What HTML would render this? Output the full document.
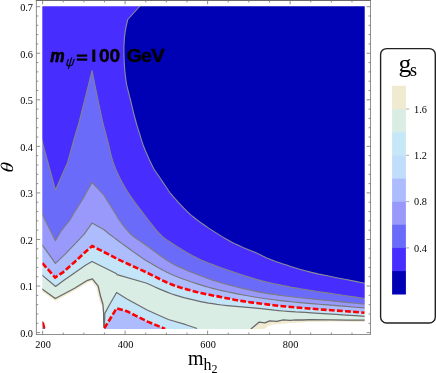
<!DOCTYPE html>
<html><head><meta charset="utf-8"><title>contour</title>
<style>
html,body{margin:0;padding:0;background:#fff;}
svg{display:block;will-change:transform}
.s{font-family:"Liberation Serif",serif;fill:#000}
.ss{font-family:"Liberation Sans",sans-serif;fill:#000}
</style></head><body>
<svg width="436" height="373" viewBox="0 0 436 373">
<rect width="436" height="373" fill="#fff"/>
<rect x="39.3" y="3.2" width="328.4" height="328.7" fill="#DAEDE5"/>
<polygon points="39.3,287.0 42.4,289.2 55.3,298.5 74.6,288.2 87.5,280.3 92.4,278.8 98.2,286.1 100.4,295.8 102.9,304.3 103.6,312.9 103.8,327.0 103.8,331.9 39.3,331.9" fill="#fff"/>
<polyline points="42.4,290.4 55.3,299.7 74.6,289.4 87.5,281.5 92.4,280.0 97.2,286.6 99.4,296.3 101.9,304.8" fill="none" stroke="#EFEAD0" stroke-width="2.2"/>
<polygon points="250.9,328.9 259.3,322.1 264.9,322.9 269.7,320.8 276.9,321.4 283.3,319.9 290.0,320.4 296.0,319.8 303.0,320.0 310.0,319.7 330.0,319.8 347.0,320.2 364.7,320.2 367.7,320.2 367.7,331.9 245.9,331.9" fill="#EFEAD0"/>
<polygon points="264.0,328.9 268.0,326.2 272.0,324.7 280.0,324.0 290.0,323.0 300.0,322.4 310.0,322.0 330.0,321.6 364.7,321.9 367.7,321.9 367.7,331.9 259.5,331.9" fill="#fff"/>
<polygon points="104.4,331.9 104.4,327.0 104.8,313.4 110.5,303.0 116.6,292.5 127.0,298.9 147.6,310.3 168.3,319.5 186.0,324.7 197.1,328.5 200.0,331.9" fill="#C4E5F8"/>
<polygon points="102.0,331.9 104.3,328.4 116.6,308.2 127.0,311.3 147.6,321.6 165.2,328.9 168.5,331.9" fill="#ACBCFC"/>
<polygon points="39.3,272.8 42.4,275.4 55.6,286.5 62.9,281.0 74.4,273.0 85.9,265.0 92.0,261.5 116.2,273.5 117.0,274.6 146.0,283.0 150.2,284.8 154.4,286.7 158.6,288.6 162.8,290.4 167.0,292.1 171.2,293.7 175.4,295.1 179.6,296.4 183.8,297.6 188.1,298.7 192.3,299.7 196.5,300.7 200.6,301.6 204.6,302.4 208.5,303.1 212.6,303.7 217.0,304.4 221.7,305.0 227.0,305.6 232.7,306.2 238.7,306.7 244.8,307.2 250.6,307.7 256.0,308.2 260.9,308.7 265.5,309.2 269.9,309.7 274.2,310.2 278.5,310.6 283.0,311.0 287.4,311.3 291.5,311.6 295.6,311.9 300.1,312.1 305.3,312.4 311.5,312.8 318.9,313.3 327.4,313.8 336.6,314.4 346.1,315.1 355.5,315.7 364.7,316.3 367.7,316.5 367.7,3.2 39.3,3.2" fill="#C4E5F8"/>
<polygon points="39.3,259.7 42.4,263.2 55.2,277.5 62.9,272.4 74.4,262.2 85.9,251.5 92.2,246.0 119.2,259.9 123.7,262.0 128.2,264.0 132.7,266.1 137.2,268.1 141.6,270.2 146.0,272.2 150.3,274.3 154.5,276.4 158.7,278.5 162.9,280.6 167.0,282.5 171.2,284.3 175.4,285.9 179.6,287.3 183.8,288.5 188.1,289.7 192.3,290.8 196.5,291.9 200.8,292.9 205.2,293.9 209.5,294.8 213.8,295.7 217.9,296.4 221.7,297.2 225.2,297.9 228.4,298.5 231.4,299.1 234.3,299.7 237.2,300.2 240.0,300.7 242.7,301.1 245.1,301.5 247.5,301.9 249.9,302.2 252.7,302.6 256.0,303.0 259.8,303.5 264.1,304.0 268.7,304.6 273.5,305.2 278.3,305.7 283.0,306.2 287.4,306.6 291.5,307.0 295.6,307.4 300.1,307.8 305.3,308.2 311.5,308.7 318.9,309.3 327.4,309.9 336.6,310.6 346.1,311.3 355.5,312.0 364.7,312.7 367.7,312.9 367.7,3.2 39.3,3.2" fill="#ACBCFC"/>
<polygon points="39.3,240.9 42.4,245.2 55.4,263.4 65.2,254.2 76.4,242.4 84.0,234.3 92.0,223.1 104.1,229.8 109.2,234.0 111.6,235.8 114.0,237.6 116.3,239.3 118.8,241.2 121.4,243.1 124.3,245.2 127.5,247.5 130.9,250.0 134.5,252.6 138.3,255.3 142.1,257.9 146.0,260.4 150.0,262.8 154.1,265.3 158.4,267.7 162.7,270.0 167.0,272.2 171.2,274.2 175.4,276.0 179.6,277.7 183.8,279.3 188.1,280.8 192.3,282.2 196.5,283.6 200.6,284.9 204.6,286.1 208.5,287.3 212.6,288.4 217.0,289.5 221.7,290.6 227.0,291.8 232.7,292.9 238.7,294.1 244.8,295.2 250.6,296.3 256.0,297.2 260.9,298.0 265.5,298.7 269.9,299.3 274.2,299.8 278.5,300.4 283.0,300.9 287.4,301.4 291.5,301.8 295.6,302.2 300.1,302.6 305.3,303.1 311.5,303.6 318.9,304.2 327.4,304.9 336.6,305.6 346.1,306.4 355.5,307.2 364.7,307.9 367.7,308.1 367.7,3.2 39.3,3.2" fill="#9999FC"/>
<polygon points="39.3,208.1 42.4,214.4 55.4,240.7 61.2,230.8 70.0,220.0 73.8,213.2 82.7,199.3 92.0,182.4 104.1,195.5 116.7,215.7 117.0,216.3 117.2,216.8 117.4,217.2 117.7,217.8 118.3,218.7 119.2,220.0 120.5,221.8 122.2,224.1 124.1,226.6 126.2,229.2 128.4,231.7 130.6,234.0 132.8,236.0 135.1,237.7 137.4,239.4 140.0,241.1 142.8,243.0 146.0,245.2 149.6,247.8 153.7,250.9 158.0,254.0 162.4,257.2 166.9,260.2 171.2,262.9 175.4,265.2 179.6,267.2 183.8,269.1 188.1,270.9 192.3,272.5 196.5,274.2 200.6,275.8 204.6,277.3 208.5,278.8 212.6,280.2 217.0,281.6 221.7,283.0 227.0,284.5 232.7,286.0 238.7,287.5 244.8,288.9 250.6,290.2 256.0,291.4 260.9,292.4 265.5,293.2 269.9,293.9 274.2,294.5 278.5,295.1 283.0,295.7 287.4,296.3 291.5,296.8 295.6,297.2 300.1,297.7 305.3,298.3 311.5,298.9 318.9,299.7 327.4,300.5 336.6,301.4 346.1,302.4 355.5,303.3 364.7,304.2 367.7,304.5 367.7,3.2 39.3,3.2" fill="#6B6BFA"/>
<polygon points="39.3,130.6 42.4,142.0 55.4,190.0 67.5,162.7 73.8,140.0 78.9,123.0 86.5,92.8 92.0,70.6 96.5,92.8 102.9,123.0 107.4,140.0 108.5,144.2 109.5,148.4 110.4,152.6 111.5,156.8 112.7,161.0 114.2,165.2 115.9,169.4 117.7,173.6 119.7,177.8 121.9,182.0 124.3,186.2 126.8,190.5 129.7,195.0 132.9,199.6 136.3,204.3 139.7,208.8 143.0,213.1 146.0,217.0 148.7,220.5 151.1,223.7 153.4,226.6 155.7,229.3 157.8,231.8 159.9,234.0 161.8,235.9 163.3,237.3 164.8,238.5 166.5,239.6 168.5,241.0 171.2,242.7 174.6,244.9 178.6,247.4 183.0,250.2 187.6,252.9 192.1,255.5 196.5,257.8 200.6,259.8 204.6,261.5 208.5,263.1 212.6,264.6 217.0,266.2 221.7,267.9 227.0,269.8 232.7,271.8 238.7,273.8 244.8,275.8 250.6,277.6 256.0,279.2 260.9,280.6 265.5,281.7 269.9,282.7 274.2,283.7 278.5,284.6 283.0,285.5 287.4,286.4 291.5,287.2 295.6,287.9 300.1,288.7 305.3,289.5 311.5,290.5 318.9,291.7 327.4,292.9 336.6,294.3 346.1,295.7 355.5,297.1 364.7,298.5 367.7,298.9 367.7,3.2 39.3,3.2" fill="#482DFF"/>
<polygon points="143.2,3.2 140.0,6.0 127.8,19.5 127.4,21.2 127.0,22.9 126.6,24.7 126.2,26.4 125.8,28.1 125.5,29.8 125.2,31.5 125.0,33.2 124.8,34.9 124.6,36.6 124.4,38.3 124.3,40.0 124.2,41.7 124.1,43.2 124.0,44.8 123.9,46.5 123.9,48.3 123.9,50.5 123.9,53.0 124.0,55.9 124.1,59.0 124.2,62.1 124.4,65.1 124.6,68.0 124.8,70.7 125.1,73.3 125.4,75.9 125.7,78.4 126.0,80.8 126.4,83.0 126.7,84.9 127.1,86.4 127.4,87.9 127.8,89.4 128.3,91.4 129.0,94.0 129.8,97.5 130.9,101.7 132.0,106.3 133.1,110.9 134.2,115.3 135.2,119.0 136.0,122.0 136.7,124.5 137.4,126.7 138.0,128.8 138.7,130.9 139.4,133.2 140.2,135.6 140.9,138.1 141.7,140.6 142.5,143.1 143.4,145.8 144.5,148.5 145.7,151.5 147.2,154.8 148.7,158.2 150.2,161.4 151.6,164.4 152.9,167.0 154.0,169.0 154.9,170.5 155.8,171.8 156.6,173.0 157.5,174.2 158.6,175.8 159.9,177.7 161.3,179.8 162.8,182.1 164.3,184.3 165.6,186.3 166.8,188.0 167.7,189.3 168.2,190.2 168.7,191.0 169.3,191.8 170.0,192.8 171.2,194.2 172.8,196.1 174.8,198.4 177.0,200.8 179.3,203.4 181.6,205.8 183.8,208.1 185.8,210.1 187.6,211.9 189.4,213.6 191.3,215.4 193.7,217.3 196.5,219.5 200.1,222.1 204.2,225.0 208.7,228.1 213.3,231.1 217.8,233.9 221.7,236.4 225.2,238.5 228.4,240.3 231.4,241.9 234.3,243.4 237.2,244.7 240.0,246.1 242.8,247.4 245.6,248.6 248.4,249.7 251.0,250.7 253.6,251.8 256.0,252.8 258.2,253.8 260.3,254.8 262.2,255.8 264.2,256.7 266.2,257.7 268.3,258.6 270.5,259.5 272.5,260.3 274.6,261.1 277.0,261.9 279.7,262.8 283.0,263.9 286.7,265.1 290.6,266.4 294.8,267.8 299.7,269.3 305.2,270.8 311.5,272.4 318.9,274.1 327.4,275.8 336.6,277.7 346.1,279.5 355.5,281.4 364.7,283.2 367.7,283.8 367.7,3.2" fill="#0000B4"/>
<polyline points="140.0,6.0 127.8,19.5 127.4,21.2 127.0,22.9 126.6,24.7 126.2,26.4 125.8,28.1 125.5,29.8 125.2,31.5 125.0,33.2 124.8,34.9 124.6,36.6 124.4,38.3 124.3,40.0 124.2,41.7 124.1,43.2 124.0,44.8 123.9,46.5 123.9,48.3 123.9,50.5 123.9,53.0 124.0,55.9 124.1,59.0 124.2,62.1 124.4,65.1 124.6,68.0 124.8,70.7 125.1,73.3 125.4,75.9 125.7,78.4 126.0,80.8 126.4,83.0 126.7,84.9 127.1,86.4 127.4,87.9 127.8,89.4 128.3,91.4 129.0,94.0 129.8,97.5 130.9,101.7 132.0,106.3 133.1,110.9 134.2,115.3 135.2,119.0 136.0,122.0 136.7,124.5 137.4,126.7 138.0,128.8 138.7,130.9 139.4,133.2 140.2,135.6 140.9,138.1 141.7,140.6 142.5,143.1 143.4,145.8 144.5,148.5 145.7,151.5 147.2,154.8 148.7,158.2 150.2,161.4 151.6,164.4 152.9,167.0 154.0,169.0 154.9,170.5 155.8,171.8 156.6,173.0 157.5,174.2 158.6,175.8 159.9,177.7 161.3,179.8 162.8,182.1 164.3,184.3 165.6,186.3 166.8,188.0 167.7,189.3 168.2,190.2 168.7,191.0 169.3,191.8 170.0,192.8 171.2,194.2 172.8,196.1 174.8,198.4 177.0,200.8 179.3,203.4 181.6,205.8 183.8,208.1 185.8,210.1 187.6,211.9 189.4,213.6 191.3,215.4 193.7,217.3 196.5,219.5 200.1,222.1 204.2,225.0 208.7,228.1 213.3,231.1 217.8,233.9 221.7,236.4 225.2,238.5 228.4,240.3 231.4,241.9 234.3,243.4 237.2,244.7 240.0,246.1 242.8,247.4 245.6,248.6 248.4,249.7 251.0,250.7 253.6,251.8 256.0,252.8 258.2,253.8 260.3,254.8 262.2,255.8 264.2,256.7 266.2,257.7 268.3,258.6 270.5,259.5 272.5,260.3 274.6,261.1 277.0,261.9 279.7,262.8 283.0,263.9 286.7,265.1 290.6,266.4 294.8,267.8 299.7,269.3 305.2,270.8 311.5,272.4 318.9,274.1 327.4,275.8 336.6,277.7 346.1,279.5 355.5,281.4 364.7,283.2 367.7,283.8" fill="none" stroke="#8c8c96" stroke-width="1.1" stroke-linejoin="round"/>
<polyline points="39.3,130.6 42.4,142.0 55.4,190.0 67.5,162.7 73.8,140.0 78.9,123.0 86.5,92.8 92.0,70.6 96.5,92.8 102.9,123.0 107.4,140.0 108.5,144.2 109.5,148.4 110.4,152.6 111.5,156.8 112.7,161.0 114.2,165.2 115.9,169.4 117.7,173.6 119.7,177.8 121.9,182.0 124.3,186.2 126.8,190.5 129.7,195.0 132.9,199.6 136.3,204.3 139.7,208.8 143.0,213.1 146.0,217.0 148.7,220.5 151.1,223.7 153.4,226.6 155.7,229.3 157.8,231.8 159.9,234.0 161.8,235.9 163.3,237.3 164.8,238.5 166.5,239.6 168.5,241.0 171.2,242.7 174.6,244.9 178.6,247.4 183.0,250.2 187.6,252.9 192.1,255.5 196.5,257.8 200.6,259.8 204.6,261.5 208.5,263.1 212.6,264.6 217.0,266.2 221.7,267.9 227.0,269.8 232.7,271.8 238.7,273.8 244.8,275.8 250.6,277.6 256.0,279.2 260.9,280.6 265.5,281.7 269.9,282.7 274.2,283.7 278.5,284.6 283.0,285.5 287.4,286.4 291.5,287.2 295.6,287.9 300.1,288.7 305.3,289.5 311.5,290.5 318.9,291.7 327.4,292.9 336.6,294.3 346.1,295.7 355.5,297.1 364.7,298.5 367.7,298.9" fill="none" stroke="#82828a" stroke-width="1.1" stroke-linejoin="round"/>
<polyline points="39.3,208.1 42.4,214.4 55.4,240.7 61.2,230.8 70.0,220.0 73.8,213.2 82.7,199.3 92.0,182.4 104.1,195.5 116.7,215.7 117.0,216.3 117.2,216.8 117.4,217.2 117.7,217.8 118.3,218.7 119.2,220.0 120.5,221.8 122.2,224.1 124.1,226.6 126.2,229.2 128.4,231.7 130.6,234.0 132.8,236.0 135.1,237.7 137.4,239.4 140.0,241.1 142.8,243.0 146.0,245.2 149.6,247.8 153.7,250.9 158.0,254.0 162.4,257.2 166.9,260.2 171.2,262.9 175.4,265.2 179.6,267.2 183.8,269.1 188.1,270.9 192.3,272.5 196.5,274.2 200.6,275.8 204.6,277.3 208.5,278.8 212.6,280.2 217.0,281.6 221.7,283.0 227.0,284.5 232.7,286.0 238.7,287.5 244.8,288.9 250.6,290.2 256.0,291.4 260.9,292.4 265.5,293.2 269.9,293.9 274.2,294.5 278.5,295.1 283.0,295.7 287.4,296.3 291.5,296.8 295.6,297.2 300.1,297.7 305.3,298.3 311.5,298.9 318.9,299.7 327.4,300.5 336.6,301.4 346.1,302.4 355.5,303.3 364.7,304.2 367.7,304.5" fill="none" stroke="#7c7c84" stroke-width="1.1" stroke-linejoin="round"/>
<polyline points="39.3,240.9 42.4,245.2 55.4,263.4 65.2,254.2 76.4,242.4 84.0,234.3 92.0,223.1 104.1,229.8 109.2,234.0 111.6,235.8 114.0,237.6 116.3,239.3 118.8,241.2 121.4,243.1 124.3,245.2 127.5,247.5 130.9,250.0 134.5,252.6 138.3,255.3 142.1,257.9 146.0,260.4 150.0,262.8 154.1,265.3 158.4,267.7 162.7,270.0 167.0,272.2 171.2,274.2 175.4,276.0 179.6,277.7 183.8,279.3 188.1,280.8 192.3,282.2 196.5,283.6 200.6,284.9 204.6,286.1 208.5,287.3 212.6,288.4 217.0,289.5 221.7,290.6 227.0,291.8 232.7,292.9 238.7,294.1 244.8,295.2 250.6,296.3 256.0,297.2 260.9,298.0 265.5,298.7 269.9,299.3 274.2,299.8 278.5,300.4 283.0,300.9 287.4,301.4 291.5,301.8 295.6,302.2 300.1,302.6 305.3,303.1 311.5,303.6 318.9,304.2 327.4,304.9 336.6,305.6 346.1,306.4 355.5,307.2 364.7,307.9 367.7,308.1" fill="none" stroke="#78787e" stroke-width="1.15" stroke-linejoin="round"/>
<polyline points="39.3,272.8 42.4,275.4 55.6,286.5 62.9,281.0 74.4,273.0 85.9,265.0 92.0,261.5 116.2,273.5 117.0,274.6 146.0,283.0 150.2,284.8 154.4,286.7 158.6,288.6 162.8,290.4 167.0,292.1 171.2,293.7 175.4,295.1 179.6,296.4 183.8,297.6 188.1,298.7 192.3,299.7 196.5,300.7 200.6,301.6 204.6,302.4 208.5,303.1 212.6,303.7 217.0,304.4 221.7,305.0 227.0,305.6 232.7,306.2 238.7,306.7 244.8,307.2 250.6,307.7 256.0,308.2 260.9,308.7 265.5,309.2 269.9,309.7 274.2,310.2 278.5,310.6 283.0,311.0 287.4,311.3 291.5,311.6 295.6,311.9 300.1,312.1 305.3,312.4 311.5,312.8 318.9,313.3 327.4,313.8 336.6,314.4 346.1,315.1 355.5,315.7 364.7,316.3 367.7,316.5" fill="none" stroke="#6c6c6e" stroke-width="1.2" stroke-linejoin="round"/>
<polyline points="39.3,287.0 42.4,289.2 55.3,298.5 74.6,288.2 87.5,280.3 92.4,278.8 98.2,286.1 100.4,295.8 102.9,304.3 103.6,312.9 103.8,327.0" fill="none" stroke="#686868" stroke-width="1.3" stroke-linejoin="round"/>
<polyline points="104.4,327.0 104.8,313.4 110.5,303.0 116.6,292.5 127.0,298.9 147.6,310.3 168.3,319.5 186.0,324.7 197.1,328.5" fill="none" stroke="#6c6c6e" stroke-width="1.2" stroke-linejoin="round"/>
<polyline points="250.9,328.9 259.3,322.1 264.9,322.9 269.7,320.8 276.9,321.4 283.3,319.9 290.0,320.4 296.0,319.8 303.0,320.0 310.0,319.7 330.0,319.8 347.0,320.2 364.7,320.2 367.7,320.2" fill="none" stroke="#686868" stroke-width="1.3" stroke-linejoin="round"/>
<polygon points="41,322.6 43.2,322.6 44.6,329.5 41,329.5" fill="#8c8cc8"/>
<polyline points="42.3,321.2 44.4,329.2" fill="none" stroke="#757575" stroke-width="1.4"/>
<polyline points="42.4,263.2 55.2,277.5 62.9,272.4 74.4,262.2 85.9,251.5 92.2,246.0 119.2,259.9 123.7,262.0 128.2,264.0 132.7,266.1 137.2,268.1 141.6,270.2 146.0,272.2 150.3,274.3 154.5,276.4 158.7,278.5 162.9,280.6 167.0,282.5 171.2,284.3 175.4,285.9 179.6,287.3 183.8,288.5 188.1,289.7 192.3,290.8 196.5,291.9 200.8,292.9 205.2,293.9 209.5,294.8 213.8,295.7 217.9,296.4 221.7,297.2 225.2,297.9 228.4,298.5 231.4,299.1 234.3,299.7 237.2,300.2 240.0,300.7 242.7,301.1 245.1,301.5 247.5,301.9 249.9,302.2 252.7,302.6 256.0,303.0 259.8,303.5 264.1,304.0 268.7,304.6 273.5,305.2 278.3,305.7 283.0,306.2 287.4,306.6 291.5,307.0 295.6,307.4 300.1,307.8 305.3,308.2 311.5,308.7 318.9,309.3 327.4,309.9 336.6,310.6 346.1,311.3 355.5,312.0 364.7,312.7" fill="none" stroke="#FF0000" stroke-width="2.6" stroke-dasharray="5.8 2.3" stroke-linejoin="miter"/>
<polyline points="104.3,328.4 116.6,308.2 127.0,311.3 147.6,321.6 165.2,328.9" fill="none" stroke="#FF0000" stroke-width="2.6" stroke-dasharray="5.8 2.3" stroke-linejoin="miter"/>
<polyline points="43.1,322.6 44.5,328.4" fill="none" stroke="#FF0000" stroke-width="2.0"/>
<path d="M0 0H436V373H0Z M42.3 6.2V328.9H364.7V6.2Z" fill="#fff" fill-rule="evenodd"/>
<rect x="36.3" y="0.4" width="334.2" height="334.2" fill="none" stroke="#747474" stroke-width="0.8"/>
<path d="M35.9 0.5H370.9" stroke="#6c6c6c" stroke-width="1"/>
<path d="M42.60 334.55 v-3.9 M42.60 0.4 v3.9 M63.23 334.55 v-2.0 M63.23 0.4 v2.0 M83.85 334.55 v-2.0 M83.85 0.4 v2.0 M104.47 334.55 v-2.0 M104.47 0.4 v2.0 M125.10 334.55 v-3.9 M125.10 0.4 v3.9 M145.72 334.55 v-2.0 M145.72 0.4 v2.0 M166.35 334.55 v-2.0 M166.35 0.4 v2.0 M186.97 334.55 v-2.0 M186.97 0.4 v2.0 M207.60 334.55 v-3.9 M207.60 0.4 v3.9 M228.22 334.55 v-2.0 M228.22 0.4 v2.0 M248.85 334.55 v-2.0 M248.85 0.4 v2.0 M269.48 334.55 v-2.0 M269.48 0.4 v2.0 M290.10 334.55 v-3.9 M290.10 0.4 v3.9 M310.73 334.55 v-2.0 M310.73 0.4 v2.0 M331.35 334.55 v-2.0 M331.35 0.4 v2.0 M351.98 334.55 v-2.0 M351.98 0.4 v2.0 M36.3 332.60 h3.9 M370.5 332.60 h-3.9 M36.3 323.29 h2.0 M370.5 323.29 h-2.0 M36.3 313.98 h2.0 M370.5 313.98 h-2.0 M36.3 304.66 h2.0 M370.5 304.66 h-2.0 M36.3 295.35 h2.0 M370.5 295.35 h-2.0 M36.3 286.04 h3.9 M370.5 286.04 h-3.9 M36.3 276.73 h2.0 M370.5 276.73 h-2.0 M36.3 267.42 h2.0 M370.5 267.42 h-2.0 M36.3 258.10 h2.0 M370.5 258.10 h-2.0 M36.3 248.79 h2.0 M370.5 248.79 h-2.0 M36.3 239.48 h3.9 M370.5 239.48 h-3.9 M36.3 230.17 h2.0 M370.5 230.17 h-2.0 M36.3 220.86 h2.0 M370.5 220.86 h-2.0 M36.3 211.54 h2.0 M370.5 211.54 h-2.0 M36.3 202.23 h2.0 M370.5 202.23 h-2.0 M36.3 192.92 h3.9 M370.5 192.92 h-3.9 M36.3 183.61 h2.0 M370.5 183.61 h-2.0 M36.3 174.30 h2.0 M370.5 174.30 h-2.0 M36.3 164.98 h2.0 M370.5 164.98 h-2.0 M36.3 155.67 h2.0 M370.5 155.67 h-2.0 M36.3 146.36 h3.9 M370.5 146.36 h-3.9 M36.3 137.05 h2.0 M370.5 137.05 h-2.0 M36.3 127.74 h2.0 M370.5 127.74 h-2.0 M36.3 118.42 h2.0 M370.5 118.42 h-2.0 M36.3 109.11 h2.0 M370.5 109.11 h-2.0 M36.3 99.80 h3.9 M370.5 99.80 h-3.9 M36.3 90.49 h2.0 M370.5 90.49 h-2.0 M36.3 81.18 h2.0 M370.5 81.18 h-2.0 M36.3 71.86 h2.0 M370.5 71.86 h-2.0 M36.3 62.55 h2.0 M370.5 62.55 h-2.0 M36.3 53.24 h3.9 M370.5 53.24 h-3.9 M36.3 43.93 h2.0 M370.5 43.93 h-2.0 M36.3 34.62 h2.0 M370.5 34.62 h-2.0 M36.3 25.30 h2.0 M370.5 25.30 h-2.0 M36.3 15.99 h2.0 M370.5 15.99 h-2.0 M36.3 6.68 h3.9 M370.5 6.68 h-3.9" fill="none" stroke="#747474" stroke-width="0.8"/>
<text x="43.1" y="347.7" text-anchor="middle" font-size="10.3" class="s">200</text>
<text x="125.6" y="347.7" text-anchor="middle" font-size="10.3" class="s">400</text>
<text x="208.1" y="347.7" text-anchor="middle" font-size="10.3" class="s">600</text>
<text x="290.6" y="347.7" text-anchor="middle" font-size="10.3" class="s">800</text>
<text x="33" y="336.9" text-anchor="end" font-size="10.3" class="s">0.0</text>
<text x="33" y="290.3" text-anchor="end" font-size="10.3" class="s">0.1</text>
<text x="33" y="243.8" text-anchor="end" font-size="10.3" class="s">0.2</text>
<text x="33" y="197.2" text-anchor="end" font-size="10.3" class="s">0.3</text>
<text x="33" y="150.7" text-anchor="end" font-size="10.3" class="s">0.4</text>
<text x="33" y="104.1" text-anchor="end" font-size="10.3" class="s">0.5</text>
<text x="33" y="57.5" text-anchor="end" font-size="10.3" class="s">0.6</text>
<text x="33" y="11.0" text-anchor="end" font-size="10.3" class="s">0.7</text>
<text x="188" y="365.3" font-size="20" class="s">m<tspan font-size="16" dy="4.6">h</tspan><tspan font-size="12" dy="3.5">2</tspan></text>
<text transform="translate(12.9,173.0) rotate(-90) scale(1.15,1) skewX(-6)" font-size="17.7" font-style="italic" class="s">θ</text>
<text transform="translate(50.23,61.8) scale(0.902,1)" font-size="17.9" font-weight="bold" font-style="italic" class="ss" stroke="#000" stroke-width="0.7">m</text>
<text transform="translate(65.52,65.5) scale(0.899,1) skewX(-8)" font-size="13.1" font-style="italic" class="ss" stroke="#000" stroke-width="0.2">ψ</text>
<rect x="76.8" y="54.5" width="10.4" height="2.2" fill="#000"/><rect x="76.8" y="58.5" width="10.4" height="2.2" fill="#000"/>
<rect x="92.3" y="49.6" width="3.0" height="12.2" fill="#000"/>
<text transform="translate(99.03,61.8) scale(1.073,1)" font-size="17.9" font-weight="bold" class="ss" stroke="#000" stroke-width="0.35">0</text>
<text transform="translate(109.43,61.8) scale(1.073,1)" font-size="17.9" font-weight="bold" class="ss" stroke="#000" stroke-width="0.35">0</text>
<text transform="translate(126.70,61.8) scale(1.086,1)" font-size="17.9" font-weight="bold" class="ss" stroke="#000" stroke-width="0.35">G</text>
<text transform="translate(141.04,61.8) scale(1.090,1)" font-size="17.9" font-weight="bold" class="ss" stroke="#000" stroke-width="0.35">e</text>
<text transform="translate(151.36,61.8) scale(1.131,1)" font-size="17.9" font-weight="bold" class="ss" stroke="#000" stroke-width="0.35">V</text>
<rect x="380.6" y="48.6" width="54.7" height="274.4" rx="6" ry="6" fill="#fff" stroke="#222" stroke-width="1.4"/>
<rect x="392.1" y="85.80" width="13.8" height="23.46" fill="#EFEAD0"/>
<rect x="392.1" y="108.96" width="13.8" height="23.46" fill="#DAEDE5"/>
<rect x="392.1" y="132.11" width="13.8" height="23.46" fill="#C6E7F5"/>
<rect x="392.1" y="155.27" width="13.8" height="23.46" fill="#C0DDFB"/>
<rect x="392.1" y="178.42" width="13.8" height="23.46" fill="#ACBCFC"/>
<rect x="392.1" y="201.58" width="13.8" height="23.46" fill="#9999FC"/>
<rect x="392.1" y="224.73" width="13.8" height="23.46" fill="#6B6BFA"/>
<rect x="392.1" y="247.89" width="13.8" height="23.46" fill="#482DFF"/>
<rect x="392.1" y="271.04" width="13.8" height="23.46" fill="#0000B4"/>
<path d="M406 109.0 h3.2" stroke="#999" stroke-width="0.8"/>
<text x="414" y="112.6" font-size="10.3" class="s">1.6</text>
<path d="M406 155.3 h3.2" stroke="#999" stroke-width="0.8"/>
<text x="414" y="158.9" font-size="10.3" class="s">1.2</text>
<path d="M406 201.6 h3.2" stroke="#999" stroke-width="0.8"/>
<text x="414" y="205.2" font-size="10.3" class="s">0.8</text>
<path d="M406 247.9 h3.2" stroke="#999" stroke-width="0.8"/>
<text x="414" y="251.5" font-size="10.3" class="s">0.4</text>
<text x="398.4" y="72.2" font-size="25.8" class="s">g<tspan font-size="18" dy="3.6" dx="-1.4">s</tspan></text>
</svg>
</body></html>
